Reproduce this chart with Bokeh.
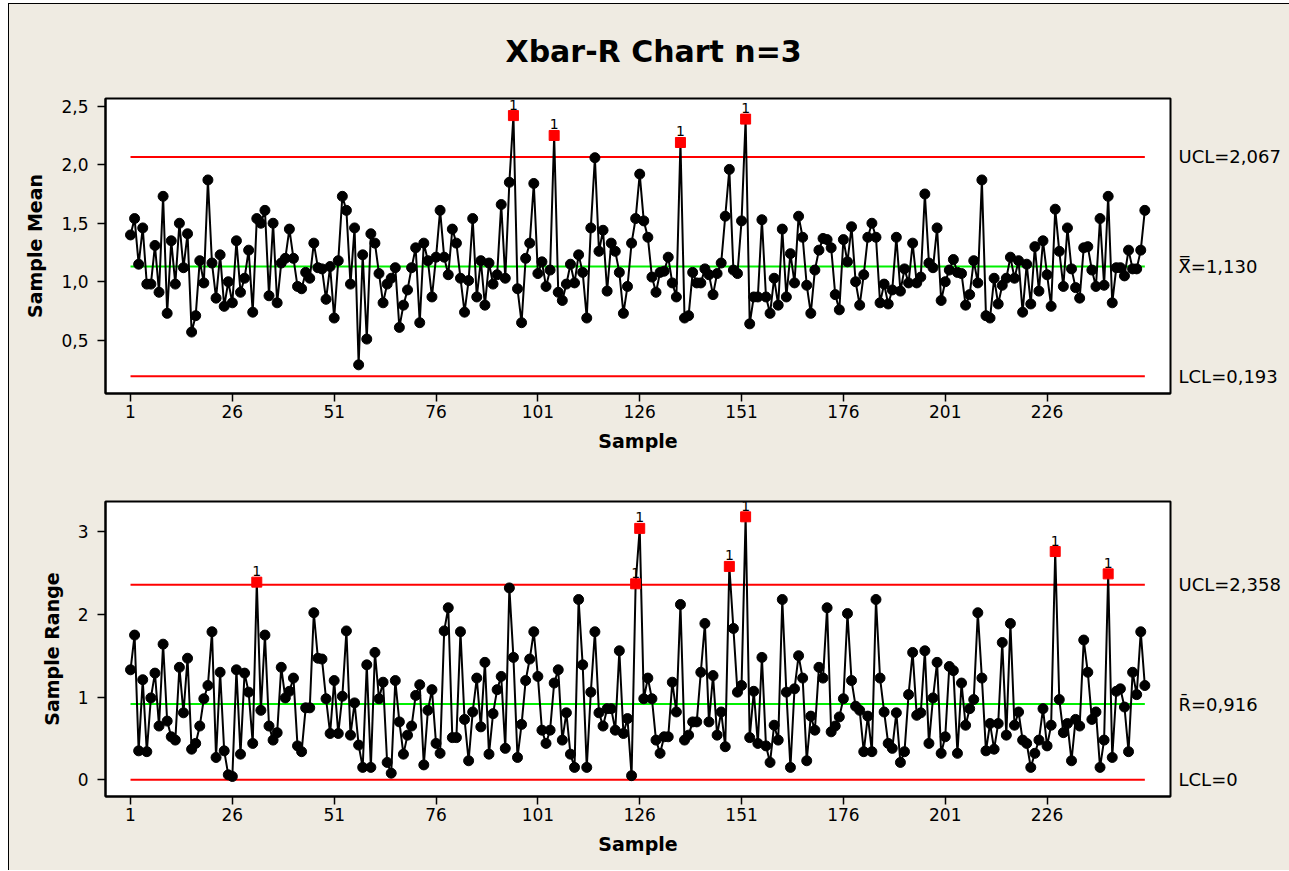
from bokeh.plotting import figure
from bokeh.models import Range1d, FixedTicker, LinearAxis, ColumnDataSource, CustomJSTickFormatter
from bokeh.layouts import column
from bokeh.embed import file_html
from bokeh.resources import INLINE
from bokeh.core.properties import value

FONT = "DejaVu Sans"
BG = "#EFEBE2"

samples = list(range(1, 251))

xbar = [
    1.40, 1.54, 1.15, 1.46, 0.98, 0.98, 1.31, 0.91, 1.73, 0.73,
    1.35, 0.98, 1.50, 1.12, 1.41, 0.57, 0.71, 1.18, 0.99, 1.87,
    1.16, 0.86, 1.23, 0.79, 1.00, 0.82, 1.35, 0.91, 1.03, 1.27,
    0.74, 1.54, 1.50, 1.61, 0.88, 1.50, 0.82, 1.16, 1.20, 1.45,
    1.20, 0.96, 0.94, 1.08, 1.03, 1.33, 1.12, 1.11, 0.85, 1.13,
    0.69, 1.18, 1.73, 1.61, 0.98, 1.46, 0.29, 1.23, 0.51, 1.41,
    1.33, 1.07, 0.82, 0.98, 1.03, 1.12, 0.61, 0.80, 0.93, 1.12,
    1.29, 0.65, 1.33, 1.18, 0.87, 1.21, 1.61, 1.21, 1.06, 1.45,
    1.33, 1.03, 0.74, 1.01, 1.54, 0.87, 1.18, 0.80, 1.16, 0.98,
    1.06, 1.66, 1.03, 1.85, 2.42, 0.94, 0.65, 1.20, 1.33, 1.84,
    1.07, 1.17, 0.96, 1.10, 2.25, 0.91, 0.84, 0.98, 1.15, 0.99,
    1.23, 1.08, 0.69, 1.46, 2.06, 1.26, 1.44, 0.92, 1.33, 1.26,
    1.08, 0.73, 0.96, 1.33, 1.54, 1.92, 1.52, 1.38, 1.04, 0.91,
    1.08, 1.09, 1.21, 0.99, 0.87, 2.19, 0.69, 0.71, 1.08, 0.99,
    0.99, 1.11, 1.06, 0.89, 1.07, 1.16, 1.56, 1.96, 1.10, 1.07,
    1.52, 2.39, 0.64, 0.87, 0.87, 1.53, 0.87, 0.73, 1.03, 0.80,
    1.45, 0.87, 1.24, 0.99, 1.56, 1.38, 0.97, 0.73, 1.10, 1.27,
    1.37, 1.36, 1.29, 0.89, 0.76, 1.36, 1.17, 1.47, 1.00, 0.80,
    1.06, 1.38, 1.50, 1.38, 0.82, 0.98, 0.81, 0.93, 1.38, 0.92,
    1.11, 0.99, 1.33, 0.99, 1.04, 1.75, 1.16, 1.12, 1.46, 0.84,
    1.00, 1.10, 1.19, 1.08, 1.07, 0.80, 0.89, 1.18, 0.99, 1.87,
    0.71, 0.69, 1.03, 0.81, 0.97, 1.03, 1.21, 1.03, 1.18, 0.74,
    1.15, 0.81, 1.30, 0.92, 1.35, 1.06, 0.79, 1.62, 1.26, 0.96,
    1.46, 1.11, 0.95, 0.86, 1.29, 1.30, 1.10, 0.96, 1.54, 0.97,
    1.73, 0.82, 1.12, 1.12, 1.05, 1.27, 1.11, 1.11, 1.27, 1.61,
]

rng = [
    1.33, 1.75, 0.35, 1.21, 0.34, 0.99, 1.29, 0.65, 1.64, 0.71,
    0.52, 0.48, 1.36, 0.81, 1.47, 0.37, 0.44, 0.65, 0.98, 1.14,
    1.79, 0.27, 1.30, 0.35, 0.06, 0.04, 1.33, 0.31, 1.29, 1.06,
    0.44, 2.39, 0.84, 1.75, 0.65, 0.48, 0.57, 1.36, 0.99, 1.07,
    1.23, 0.41, 0.34, 0.87, 0.87, 2.02, 1.47, 1.46, 0.98, 0.56,
    1.20, 0.56, 1.01, 1.80, 0.54, 0.93, 0.42, 0.15, 1.39, 0.15,
    1.54, 0.98, 1.18, 0.21, 0.08, 1.20, 0.70, 0.31, 0.54, 0.65,
    1.02, 1.15, 0.18, 0.84, 1.09, 0.44, 0.32, 1.80, 2.08, 0.51,
    0.51, 1.79, 0.73, 0.23, 0.82, 1.23, 0.64, 1.42, 0.31, 0.80,
    1.09, 1.25, 0.38, 2.32, 1.48, 0.27, 0.67, 1.20, 1.46, 1.79,
    1.25, 0.60, 0.44, 0.60, 1.17, 1.33, 0.48, 0.81, 0.31, 0.15,
    2.18, 1.39, 0.15, 1.06, 1.79, 0.81, 0.65, 0.86, 0.86, 0.60,
    1.56, 0.56, 0.74, 0.05, 2.37, 3.04, 0.98, 1.23, 0.98, 0.48,
    0.32, 0.52, 0.52, 1.18, 0.82, 2.12, 0.48, 0.54, 0.70, 0.70,
    1.30, 1.89, 0.70, 1.26, 0.54, 0.82, 0.40, 2.58, 1.83, 1.06,
    1.14, 3.18, 0.51, 1.07, 0.44, 1.48, 0.41, 0.21, 0.66, 0.48,
    2.18, 1.06, 0.15, 1.10, 1.50, 1.23, 0.23, 0.77, 0.60, 1.36,
    1.23, 2.08, 0.58, 0.65, 0.76, 0.98, 2.01, 1.20, 0.89, 0.84,
    0.34, 0.77, 0.34, 2.18, 1.23, 0.82, 0.44, 0.38, 0.81, 0.21,
    0.34, 1.03, 1.54, 0.78, 0.81, 1.56, 0.44, 0.99, 1.42, 0.32,
    0.52, 1.37, 1.32, 0.32, 1.17, 0.66, 0.86, 0.97, 2.02, 1.23,
    0.35, 0.68, 0.37, 0.68, 1.66, 0.54, 1.89, 0.66, 0.82, 0.48,
    0.44, 0.15, 0.32, 0.48, 0.86, 0.41, 0.66, 2.76, 0.97, 0.57,
    0.68, 0.23, 0.73, 0.65, 1.69, 1.30, 0.73, 0.82, 0.15, 0.48,
    2.49, 0.27, 1.07, 1.10, 0.88, 0.34, 1.30, 1.03, 1.79, 1.14,
]

x_ticks = [1, 26, 51, 76, 101, 126, 151, 176, 201, 226]
mean_ticks = [0.5, 1.0, 1.5, 2.0, 2.5]
range_ticks = [0, 1, 2, 3]

xbar_limits = [0.193, 1.130, 2.067]
xbar_limit_labels = ["LCL=0,193", "X\u033F=1,130", "UCL=2,067"]
r_limits = [0.0, 0.916, 2.358]
r_limit_labels = ["LCL=0", "R\u0304=0,916", "UCL=2,358"]

title_text = "Xbar-R Chart n=3"


def panel(vals, limits, limit_labels, y_range, ticks, decimals, ylabel, height, top, bottom):
    p = figure(width=1289, height=height, x_range=Range1d(-5.14, 256.3),
               y_range=Range1d(*y_range), output_backend="svg", toolbar_location=None,
               min_border_left=105, min_border_right=119, min_border_top=top,
               min_border_bottom=bottom)
    p.border_fill_alpha = 0
    p.background_fill_color = "white"
    p.outline_line_color = "black"
    p.outline_line_width = 2
    p.grid.visible = False

    lcl, cl, ucl = limits
    first, last = samples[0], samples[-1]
    p.line([first, last], [ucl, ucl], color="#FF0000", line_width=2)
    p.line([first, last], [lcl, lcl], color="#FF0000", line_width=2)
    p.line([first, last], [cl, cl], color="#00F000", line_width=2)

    ooc = [v > ucl or v < lcl for v in vals]
    src_in = ColumnDataSource(dict(x=[s for s, o in zip(samples, ooc) if not o],
                                   y=[v for v, o in zip(vals, ooc) if not o]))
    src_out = ColumnDataSource(dict(x=[s for s, o in zip(samples, ooc) if o],
                                    y=[v for v, o in zip(vals, ooc) if o],
                                    t=["1" for o in ooc if o]))
    p.line(samples, vals, color="black", line_width=2)
    p.scatter("x", "y", source=src_in, marker="circle", size=10, color="black")
    p.scatter("x", "y", source=src_out, marker="square", size=10, color="#FF0000")
    p.text("x", "y", text="t", source=src_out, text_align="center", text_baseline="bottom",
           y_offset=-6, text_font=value(FONT), text_font_size="14px", text_color="black")

    # control-limit labels on a right-hand axis
    rax = LinearAxis(ticker=FixedTicker(ticks=limits),
                     formatter=CustomJSTickFormatter(
                         args=dict(vals=limits, labs=limit_labels),
                         code="""
                         let best = 0;
                         for (let i = 0; i < vals.length; i++) {
                           if (Math.abs(vals[i] - tick) < Math.abs(vals[best] - tick)) best = i;
                         }
                         return labs[best];
                         """))
    rax.axis_line_color = None
    rax.major_tick_line_color = None
    rax.minor_tick_line_color = None
    rax.major_tick_in = 0
    rax.major_tick_out = 0
    rax.major_label_standoff = 8
    rax.major_label_text_font = FONT
    rax.major_label_text_font_size = "18px"
    rax.major_label_text_color = "black"
    p.add_layout(rax, "right")

    for ax in (p.xaxis[0], p.yaxis[0]):
        ax.axis_line_color = "black"
        ax.axis_line_width = 2
        ax.major_tick_line_color = "black"
        ax.major_tick_line_width = 1.5
        ax.major_tick_in = 0
        ax.major_tick_out = 8
        ax.minor_tick_line_color = None
        ax.major_label_text_font = FONT
        ax.major_label_text_font_size = "17px"
        ax.major_label_text_color = "black"
        ax.axis_label_text_font = FONT
        ax.axis_label_text_font_style = "bold"
        ax.axis_label_text_font_size = "19px"
        ax.axis_label_text_color = "black"
    p.xaxis[0].ticker = FixedTicker(ticks=x_ticks)
    p.xaxis[0].axis_label = "Sample"
    p.xaxis[0].major_label_standoff = 3
    p.xaxis[0].axis_label_standoff = 9
    p.yaxis[0].ticker = FixedTicker(ticks=ticks)
    p.yaxis[0].formatter = CustomJSTickFormatter(
        code="return tick.toFixed(%d).replace('.', ',');" % decimals)
    p.yaxis[0].axis_label = ylabel
    p.yaxis[0].major_label_standoff = 9
    p.yaxis[0].axis_label_standoff = 12
    return p


p1 = panel(xbar, xbar_limits, xbar_limit_labels, (0.045, 2.566), mean_ticks, 1,
           "Sample Mean", 463, 98, 70)
p2 = panel(rng, r_limits, r_limit_labels, (-0.202, 3.365), range_ticks, 0,
           "Sample Range", 407, 38, 74)

p1.title.text = title_text
p1.title.align = "left"
p1.title.offset = 400
p1.title.standoff = 60
p1.title.text_font = FONT
p1.title.text_font_style = "bold"
p1.title.text_font_size = "30px"
p1.title.text_color = "black"

layout = column(p1, p2, spacing=0)
bg_css = ("linear-gradient(#000,#000) 8px 3px / 1px 100% no-repeat, "
          "linear-gradient(#000,#000) 8px 3px / 100% 1px no-repeat, "
          "linear-gradient(" + BG + "," + BG + ") 9px 4px / 100% 100% no-repeat, #FFFFFF")
layout.styles = {"background": bg_css}

open("out.html", "w").write(file_html(layout, INLINE))
